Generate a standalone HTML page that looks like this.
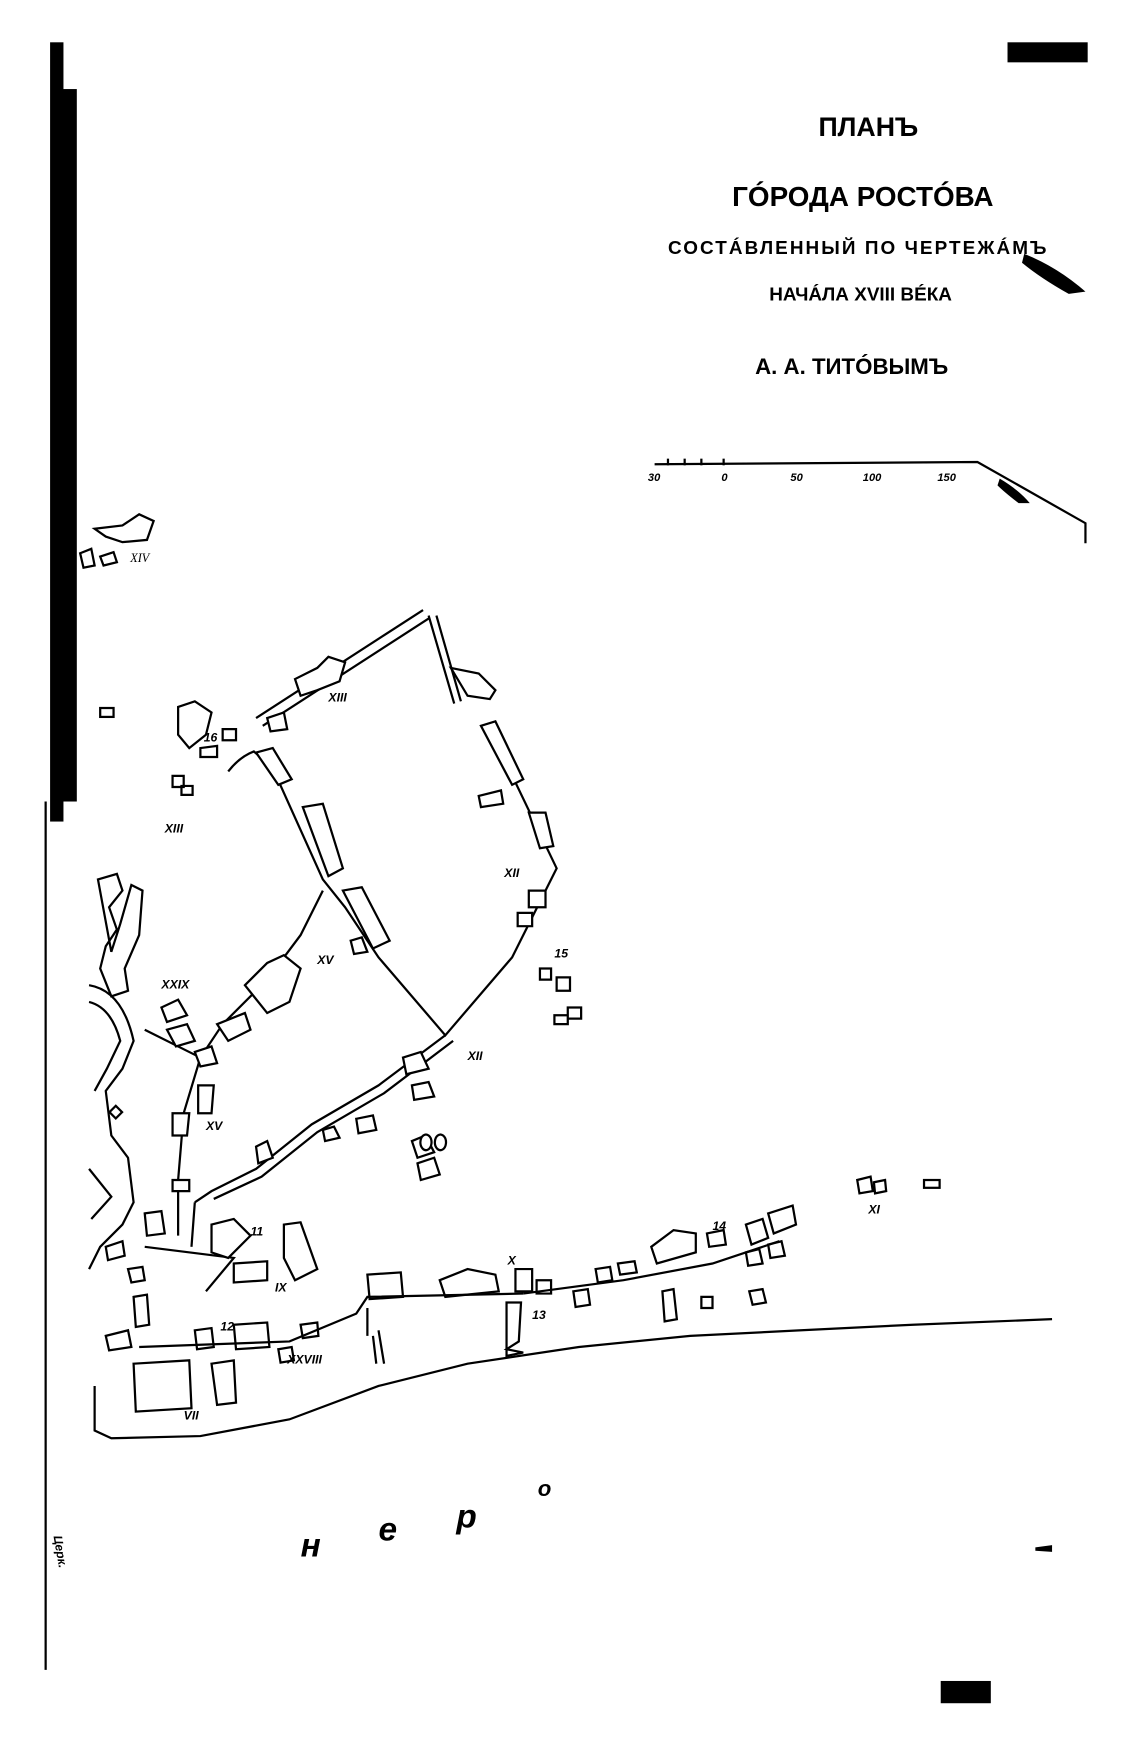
<!DOCTYPE html>
<html><head><meta charset="utf-8"><style>
html,body{margin:0;padding:0;background:#fff;width:1140px;height:1760px;overflow:hidden}
svg{display:block}
text{font-family:"Liberation Sans","DejaVu Sans",sans-serif;font-weight:bold;fill:#000}
.r{fill:none;stroke:#000;stroke-width:2}
.b{fill:#fff;stroke:#000;stroke-width:2}
.i{font-family:"Liberation Serif",serif;font-style:italic;font-weight:normal;font-size:11px}
</style></head><body>
<svg width="1140" height="1760" viewBox="0 0 1024 1581" preserveAspectRatio="none">
<!-- left bar -->
<rect x="45" y="38" width="12" height="700" fill="#000"/>
<rect x="55" y="80" width="14" height="640" fill="#000"/>
<line x1="41" y1="720" x2="41" y2="1500" stroke="#000" stroke-width="2"/>
<!-- top right bar -->
<rect x="905" y="38" width="72" height="18" fill="#000"/>
<!-- title -->
<text x="780" y="122" font-size="24" text-anchor="middle" font-family="Liberation Serif">ПЛАНЪ</text>
<text x="775" y="185" font-size="25" text-anchor="middle">ГÓРОДА РОСТÓВА</text>
<text x="770" y="228" font-size="17" text-anchor="middle" textLength="340">СОСТÁВЛЕННЫЙ ПО ЧЕРТЕЖÁМЪ</text>
<path d="M920 228 Q950 240 975 262 L960 264 Q935 250 918 236Z" fill="#000"/>
<text x="773" y="270" font-size="17" text-anchor="middle">НАЧÁЛА XVIII ВÉКА</text>
<text x="765" y="336" font-size="20" text-anchor="middle">А. А. ТИТÓВЫМЪ</text>
<!-- scale -->
<path d="M588 417 L878 415 L975 470 L975 488" class="r" stroke-width="3"/>
<g stroke="#000" stroke-width="2"><line x1="600" y1="412" x2="600" y2="418"/><line x1="615" y1="412" x2="615" y2="418"/><line x1="630" y1="412" x2="630" y2="418"/><line x1="650" y1="412" x2="650" y2="418"/></g>
<path d="M898 430 Q915 440 925 452 L915 452 Q902 442 896 436Z" fill="#000"/>
<g font-size="10" font-style="italic"><text x="582" y="432">30</text><text x="648" y="432">0</text><text x="710" y="432">50</text><text x="775" y="432">100</text><text x="842" y="432">150</text></g>
<!-- top NW settlements -->
<path d="M85 475 L110 472 L125 462 L138 468 L132 485 L110 487 L95 482Z" class="b"/>
<path d="M72 497 L82 493 L85 508 L75 510Z M90 500 L102 496 L105 505 L93 508Z" class="b"/>
<text x="117" y="505" class="i">XIV</text>
<rect x="90" y="636" width="12" height="8" class="b"/>
<!-- roads -->
<path d="M230 645 L380 548" class="r" stroke-width="3"/>
<path d="M236 652 L386 555" class="r"/>
<path d="M385 553 L408 632 M392 553 L414 630" class="r"/>
<path d="M405 600 L420 625 L440 628 L445 620 L430 605Z" class="b"/>
<path d="M205 693 Q215 680 228 675 L245 690 L290 790 L310 815 L340 860 L400 930 L460 860 L485 810 L500 780 L440 655" class="r" stroke-width="2.5"/>
<path d="M400 930 L340 975 L280 1010 L230 1050 L190 1070 L175 1080" class="r" stroke-width="2.5"/>
<path d="M407 935 L345 982 L285 1017 L235 1057 L192 1077" class="r"/>
<path d="M290 800 L270 840 L240 880 L200 920 L180 950 L165 1000 L160 1060 L160 1110" class="r" stroke-width="2.5"/>
<path d="M175 1080 L172 1120 M130 1120 L210 1130 L185 1160" class="r" stroke-width="2.5"/>
<path d="M130 925 L180 950" class="r" stroke-width="2.5"/>
<!-- buildings -->
<g class="b">
<path d="M265 610 L285 600 L295 590 L310 595 L305 612 L285 620 L270 625Z"/>
<path d="M240 645 L255 640 L258 655 L243 657Z"/>
<path d="M160 635 L175 630 L190 640 L185 660 L170 672 L160 660Z"/>
<path d="M180 672 L195 670 L195 680 L180 680Z"/>
<path d="M200 655 L212 655 L212 665 L200 665Z"/>
<path d="M155 697 L165 697 L165 707 L155 707Z M163 706 L173 706 L173 714 L163 714Z"/>
<path d="M230 676 L245 672 L262 700 L250 705Z"/>
<path d="M272 725 L290 722 L308 780 L295 787Z"/>
<path d="M308 800 L325 797 L350 845 L335 852Z"/>
<path d="M315 845 L325 842 L330 855 L318 857Z"/>
<path d="M432 652 L445 648 L470 700 L460 705Z"/>
<path d="M430 715 L450 710 L452 722 L432 725Z"/>
<path d="M475 730 L490 730 L497 760 L485 762Z"/>
<path d="M475 800 L490 800 L490 815 L475 815Z M465 820 L478 820 L478 832 L465 832Z"/>
<path d="M485 870 L495 870 L495 880 L485 880Z M500 878 L512 878 L512 890 L500 890Z"/>
<path d="M510 905 L522 905 L522 915 L510 915Z M498 912 L510 912 L510 920 L498 920Z"/>
<path d="M88 790 L105 785 L110 800 L98 815 L105 835 L95 850 L90 870 L100 895 L115 890 L112 870 L125 840 L128 800 L118 795 L108 830 L100 855Z"/>
<path d="M220 885 L240 865 L255 858 L270 870 L260 900 L240 910Z"/>
<path d="M195 920 L220 910 L225 925 L205 935Z"/>
<path d="M145 905 L160 898 L168 912 L150 918Z"/>
<path d="M150 925 L168 920 L175 935 L158 940Z"/>
<path d="M175 945 L190 940 L195 955 L180 958Z"/>
<path d="M178 975 L192 975 L190 1000 L178 1000Z"/>
<path d="M155 1000 L170 1000 L168 1020 L155 1020Z"/>
<path d="M155 1060 L170 1060 L170 1070 L155 1070Z"/>
<path d="M130 1090 L145 1088 L148 1108 L132 1110Z"/>
<path d="M190 1100 L210 1095 L225 1110 L205 1130 L190 1125Z"/>
<path d="M255 1100 L270 1098 L285 1140 L265 1150 L255 1130Z"/>
<path d="M210 1135 L240 1133 L240 1150 L210 1152Z"/>
<path d="M230 1030 L240 1025 L245 1040 L232 1045Z"/>
<path d="M290 1015 L300 1012 L305 1022 L292 1025Z M320 1005 L335 1002 L338 1015 L322 1018Z"/>
<path d="M362 950 L378 945 L385 960 L365 965Z M370 975 L385 972 L390 985 L372 988Z"/>
<path d="M370 1025 L382 1020 L390 1035 L375 1040Z M375 1045 L390 1040 L395 1055 L378 1060Z"/>
<path d="M385 1020 A5 7 0 1 0 386 1021Z M398 1020 A5 7 0 1 0 399 1021Z"/>
<path d="M330 1145 L360 1143 L362 1165 L332 1167Z"/>
<path d="M395 1150 L420 1140 L445 1145 L448 1160 L400 1165Z"/>
<path d="M463 1140 L478 1140 L478 1160 L463 1160Z M482 1150 L495 1150 L495 1162 L482 1162Z"/>
<path d="M515 1160 L528 1158 L530 1172 L517 1174Z M535 1140 L548 1138 L550 1150 L537 1152Z"/>
<path d="M555 1135 L570 1133 L572 1143 L557 1145Z"/>
<path d="M585 1120 L605 1105 L625 1108 L625 1125 L590 1135Z"/>
<path d="M595 1160 L605 1158 L608 1185 L597 1187Z"/>
<path d="M630 1165 L640 1165 L640 1175 L630 1175Z M673 1160 L685 1158 L688 1170 L676 1172Z"/>
<path d="M635 1108 L650 1105 L652 1118 L637 1120Z M670 1100 L685 1095 L690 1112 L675 1118Z"/>
<path d="M690 1090 L712 1083 L715 1100 L695 1108Z M670 1125 L682 1122 L685 1135 L672 1137Z M690 1118 L702 1115 L705 1128 L692 1130Z"/>
<path d="M770 1060 L782 1057 L784 1070 L772 1072Z M785 1062 L795 1060 L796 1070 L786 1072Z"/>
<rect x="830" y="1060" width="14" height="7"/>
<path d="M95 1120 L110 1115 L112 1128 L97 1132Z M115 1140 L128 1138 L130 1150 L118 1152Z"/>
<path d="M120 1165 L132 1163 L134 1190 L122 1192Z"/>
<path d="M175 1195 L190 1193 L192 1210 L177 1212Z M210 1190 L240 1188 L242 1210 L212 1212Z"/>
<path d="M190 1225 L210 1222 L212 1260 L195 1262Z"/>
<path d="M120 1225 L170 1222 L172 1265 L122 1268Z"/>
<path d="M95 1200 L115 1195 L118 1210 L98 1213Z"/>
<path d="M250 1212 L262 1210 L264 1222 L252 1224Z M270 1190 L285 1188 L286 1200 L272 1202Z"/>
<path d="M455 1170 L468 1170 L466 1205 L455 1212 L470 1215 L455 1218Z"/>
<rect x="100" y="995" width="8" height="8" transform="rotate(45 104 999)"/>
</g>
<!-- roads bottom -->
<path d="M125 1210 L260 1205 L320 1180 L330 1165 L470 1162" class="r" stroke-width="2.5"/>
<path d="M470 1162 L560 1150 L640 1135 L700 1115" class="r"/>
<path d="M330 1175 L330 1200 M340 1195 L345 1225 M335 1200 L338 1225" class="r"/>
<!-- kremlin -->
<path d="M80 885 Q110 890 120 935 L110 960 L95 980 L100 1020 L115 1040 L120 1080 L110 1100 L90 1120 L80 1140" class="r" stroke-width="2.5"/>
<path d="M80 900 Q100 905 108 935 L96 960 L85 980" class="r"/>
<path d="M80 1050 L100 1075 L82 1095" class="r"/>
<!-- shoreline -->
<path d="M85 1245 L85 1285 L100 1292 L180 1290 L260 1275 L340 1245 L420 1225 L520 1210 L620 1200 L720 1195 L820 1190 L945 1185" class="r" stroke-width="3"/>
<!-- labels -->
<g class="i">
<text x="295" y="630">XIII</text><text x="148" y="748">XIII</text>
<text x="183" y="666">16</text><text x="453" y="788">XII</text>
<text x="498" y="860">15</text><text x="420" y="952">XII</text>
<text x="145" y="888">XXIX</text><text x="285" y="866">XV</text>
<text x="185" y="1015">XV</text><text x="225" y="1110">11</text>
<text x="247" y="1160">IX</text><text x="198" y="1195">12</text>
<text x="258" y="1225">XXVIII</text><text x="165" y="1275">VII</text>
<text x="456" y="1136">X</text><text x="478" y="1185">13</text>
<text x="640" y="1105">14</text><text x="780" y="1090">XI</text>
<text x="48" y="1380" transform="rotate(80 48 1380)">Церк.</text>
</g>
<g font-family="Liberation Serif" font-style="italic" font-size="30" font-weight="normal">
<text x="270" y="1398">н</text><text x="340" y="1384">е</text><text x="410" y="1372">р</text><text x="483" y="1344" font-size="20">о</text>
</g>
<rect x="845" y="1510" width="45" height="20" fill="#000"/>
<path d="M930 1390 L945 1388 L945 1394 L930 1393Z" fill="#000"/>
</svg>
</body></html>
